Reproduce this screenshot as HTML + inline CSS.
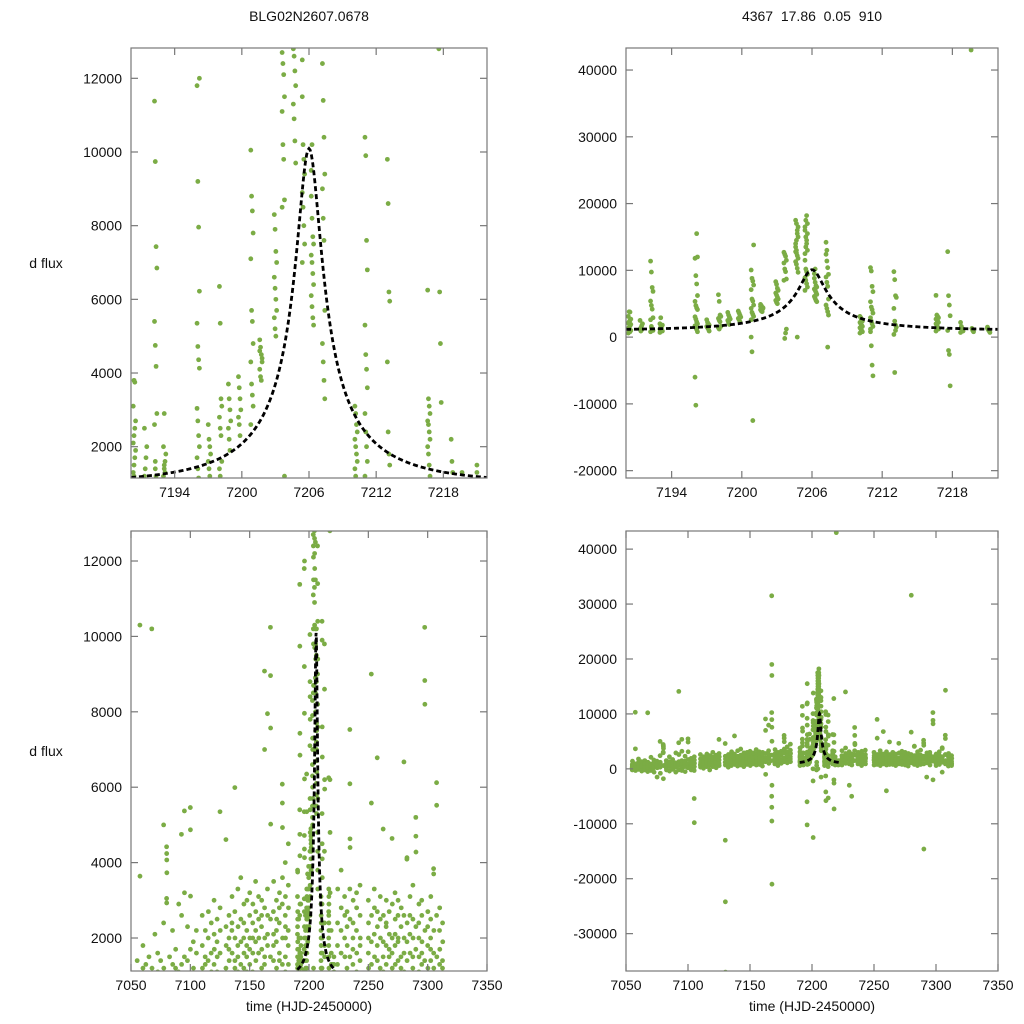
<!DOCTYPE html>
<html><head><meta charset="utf-8"><style>
html,body{margin:0;padding:0;background:#fff;overflow:hidden;width:1024px;height:1024px;}
svg{display:block;}
svg text{font-family:"Liberation Sans",sans-serif;fill:#111;}
</style></head><body>
<svg id="chart" width="1024" height="1024" viewBox="0 0 1024 1024" xmlns="http://www.w3.org/2000/svg">
<rect width="1024" height="1024" fill="#fff"/>
</svg>
<script>
// ---- data: observation nights [time, fluxes...] ----
const nightTimes = [7055,7057.5,7060,7062.5,7065,7067.5,7070,7072.5,7075,7077.5,7080,7082.5,7085,7087.5,7090,7092.5,7095,7097.5,7100,7102.5,7105,
7110,7112.5,7115,7117.5,7120,7122.5,7125,7130,7132.5,7135,7137.5,7140,7142.5,7145,7147.5,7150,7152.5,7155,7157.5,7160,7162.5,7165,7167.5,7170,7172.5,7175,7177.5,7180,7182.5,
7190.3,7191.3,7192.2,7193.0,7196.0,7197.0,7198.0,7198.8,7199.7,7200.8,7201.6,7202.9,7203.6,7204.6,7205.4,7206.2,7207.2,7210.1,7211.0,7213.0,7216.6,7217.6,7218.7,7219.6,7221.0,
7224,7227,7230,7232,7234.4,7237,7240,7243,
7250,7252.5,7255,7257.5,7260,7262.5,7265,7267.5,7270,7272.5,7275,7277.5,7280,7282.5,7285,7287.5,7290,7292.5,7295,7297.5,7300,7302.5,7305,7307.5,7310,7312.5];
const nightFlux = [
[300,-200,600,1400,100,800],[10300,3640,500,-300,900,200],[400,1200,-100,700,300,1800],[100,600,900,-400,1300,500],[800,200,1500,-200,400,1000],
[10200,600,100,1200,-500,300],[500,900,2100,0,700,-300],[1600,300,-600,800,200,1100],[1400,-1500,500,200,900,600],[5000,300,1200,-800,2400,500],
[4420,4240,4070,3730,3050,2930,-1800,600],[300,1000,-200,700,1500,100],[800,-400,1300,400,2200,600],[200,900,1700,-100,500,1200],[1100,400,-600,2900,700,300],
[4750,14100,1300,600,-200,900,2600],[5370,3200,800,200,1500,-300],[600,1000,2300,-500,400,1400],[5460,4870,3110,900,200,1700],[700,-200,1200,500,1900,300],
[-5400,-9800,400,1000,-300,2200,1600],
[800,1800,300,1200,2600,600],[1500,500,2200,900,100,1300],[1000,2000,400,2700,1400,700],[600,1600,2400,1100,-200,900],[1300,2100,700,1700,3000,400],
[900,2500,1500,200,1900,1100],[5350,1600,600,2200,1000,2800],[4610,-13000,-24200,-37000,1200,2300,700,1800],[1700,2600,900,1400,300,2000],[2200,1000,3100,1600,600,2400],
[5990,1400,2000,800,2700,1200],[1800,3300,1100,2300,500,1500],[1300,2500,1900,700,3600,1000],[2000,1200,2900,1600,400,2400],[1500,2200,800,3000,1800,1100],
[2600,1300,2000,600,1700,3200],[1100,2400,1600,2900,900,2000],[1900,700,2700,1400,3500,2200],[1600,2500,1000,2000,3100,800],[2300,1200,3000,1700,500,2600],
[9080,7000,-1000,2000,1300,2800,1500],[7950,1800,2600,1000,3300,2100],[10240,8960,7570,5020,31500,19000,17000,-3000,-5000,-7000,-9500,-21000,1500,2500],
[2700,1400,2100,3500,900,1800],[1900,3000,1200,2500,600,2200],[2400,1600,3200,1000,2800,1400],[6080,5580,4930,2000,2900,1300,3600],[2600,1500,3100,2000,4000,1100,2300],
[2200,3400,1300,2800,1800,4500],
[1300,1500,1700,1900,2100,2300,2500,2700,3100,3800,3750,1000,600,1200,800],
[1200,1400,1700,2000,2500,900,1100],
[11380,9740,7430,6850,5400,4750,4180,2900,2600,1600,1200,1000,800,1400],
[1200,1400,1600,1800,2000,2900,1300,900,700,1500],
[11800,9200,7960,6220,5350,4720,4360,4130,3040,2700,2300,2000,1700,1400,1150,800,-6000,-10200,15500,12000],
[2600,2200,2000,1800,1600,1400,1200,900],
[6350,5350,3300,3100,2800,2500,2300,1600,1400,1200],
[3700,3300,3000,2700,2500,2200,1900],
[3900,3600,3300,3000,2800,2600,2300],
[10050,8800,8400,7800,7100,5700,5400,4800,4300,3700,3400,3100,2600,-2200,-12500,13800,0],
[4900,4700,4500,4300,4100,3900,3800,4400,4600],
[8300,7900,7300,7000,6600,6300,6000,5700,5500,5200,5000],
[12700,12400,12100,11500,11100,10200,9800,8700,8500,-200,600,1200],
[12800,12600,12200,11800,11300,10900,10300,9700,13500,14500,15500,16500,17500,17000,16000,15000,14000,13000,0],
[11500,10200,9800,9400,8900,8500,8000,7500,7000,13500,14500,15500,16500,17500,18200,17000,16000,15000,14000,13000,12500],
[8800,8200,7700,7500,7200,7000,6700,6400,6100,5800,5500,5300,9500,10200],
[12400,11400,10400,9400,9000,8200,7600,5700,4800,4300,3800,3300,14200,13000,-1500],
[3100,2900,2600,2400,2200,2000,1800,1600,1400,1200,1000,800,600],
[10400,9900,7600,6800,5300,4500,4100,3600,2900,2400,2000,1600,1200,-1300,-4200,-5800,800],
[9800,8600,6200,5950,4300,2400,1800,1500,400,-5300,1000],
[6250,3300,3100,2900,2700,2600,2400,2200,2000,1800,1500,1200,900],
[12800,6200,4800,3200,1000,-2000,-2600,-7300],
[2200,1600,1300,900,700],
[43000,1300,1000,800],
[1300,1100,900,700,1500],
[1300,2400,700,3300,1800,900],[14000,1600,2800,1000,2200,3800],[2000,900,2600,1500,3100,-3000],[1200,2300,700,1800,-5000,2700],
[7530,6090,4630,4400,3300,1500,2500],[1700,900,2400,3000,1300,2000],[2200,1100,2800,1600,600,3200],[1400,2600,900,2000,3400,1800],
[1600,700,2400,1200,3000,2000],[9000,5580,1300,2600,800,1900],[2100,1000,2800,1500,3300,600],[6780,1400,2300,900,1800,2700],[1200,2500,700,2000,-4000,3100],
[4890,1900,1100,2600,1500,800],[2300,1300,3000,800,1800,2400],[1500,2700,1000,2100,600,1700],[4640,2000,1200,2900,1600,900],[1800,800,2500,1300,3200,2100],
[2600,1400,2000,700,1900,3000],[1200,2300,900,2800,1500,500],[6670,31600,2000,1100,2600,1600],[4090,4130,1400,2400,800,1900],[2100,1000,3100,1600,2600,600],
[1500,2500,800,2000,1200,3400],[5200,4700,4280,-14600,1700,2300,900],[2400,1100,2900,1500,-1500,2000],[1300,2600,700,1900,3000,1600],[10240,8830,8200,2200,1400,-2000],
[1800,900,2700,1200,2300,600],[2000,1400,3100,800,1700,2500],[3840,3700,1200,2200,-600,1600],[6120,5520,14300,1500,2600,900],[2200,1000,2800,1700,500,1300],
[1400,2400,900,1900,1200,600]
];
// microlensing model parameters: t0, u0, tE, source flux, blend flux
const modelT0 = 7206, modelU0 = 0.1, modelTE = 11.5, modelFs = 1006, modelFb = 1000;
const modelRange = [7190.1, 7221.9];
const zoomXTicks = [7194,7200,7206,7212,7218];
const fullXTicks = [7050,7100,7150,7200,7250,7300,7350];
const leftYTicks = [2000,4000,6000,8000,10000,12000];
const trYTicks = [-20000,-10000,0,10000,20000,30000,40000];
const brYTicks = [-30000,-20000,-10000,0,10000,20000,30000,40000];

const NS = 'http://www.w3.org/2000/svg';
const svg = document.getElementById('chart');
function mk(tag, attrs, parent){const e=document.createElementNS(NS,tag);for(const k in attrs)e.setAttribute(k,attrs[k]);(parent||svg).appendChild(e);return e;}

const panels = [
 {id:'top-left', x0:131,x1:487,y0:48,y1:478, xd:[7190.1,7221.9], yd:[1150,12823], xt:zoomXTicks, yt:leftYTicks, xlab:false, ylab:true},
 {id:'top-right', x0:626,x1:998,y0:48,y1:478, xd:[7190.1,7221.9], yd:[-21100,43300], xt:zoomXTicks, yt:trYTicks, xlab:false, ylab:false},
 {id:'bottom-left', x0:131,x1:487,y0:531,y1:971, xd:[7050,7350], yd:[1125,12796], xt:fullXTicks, yt:leftYTicks, xlab:true, ylab:true},
 {id:'bottom-right', x0:626,x1:998,y0:531,y1:971, xd:[7050,7350], yd:[-36800,43300], xt:fullXTicks, yt:brYTicks, xlab:true, ylab:false}
];

panels.forEach((p,pi)=>{
  const sx = t => p.x0 + (t-p.xd[0])/(p.xd[1]-p.xd[0])*(p.x1-p.x0);
  const sy = f => p.y1 - (f-p.yd[0])/(p.yd[1]-p.yd[0])*(p.y1-p.y0);
  const g = mk('g',{});
  
  
  const cp = mk('clipPath',{id:'clip'+pi}, g);
  mk('rect',{x:p.x0,y:p.y0,width:p.x1-p.x0,height:p.y1-p.y0},cp);
  const pts = mk('g',{'clip-path':'url(#clip'+pi+')'}, g);
  
  
  nightTimes.forEach((t,i)=>{
    nightFlux[i].forEach((f,j)=>{
      const tt = t + (j%4)*0.07;
      if (tt < p.xd[0]-1 || tt > p.xd[1]+1) return;
      const c = mk('circle',{cx:sx(tt).toFixed(2),cy:sy(f).toFixed(2),r:2.4,fill:'#7bac45'},pts);
      
      
    });
  });
  let d='';
  for(let k=0;k<=300;k++){
    const t = modelRange[0] + (modelRange[1]-modelRange[0])*k/300;
    const tau=(t-modelT0)/modelTE;
    const u=Math.sqrt(modelU0*modelU0+tau*tau);
    const A=(u*u+2)/(u*Math.sqrt(u*u+4));
    const f=modelFb+modelFs*(A-1);
    d+=(k?'L':'M')+sx(t).toFixed(2)+','+sy(f).toFixed(2);
  }
  const ml = mk('path',{d:d,fill:'none',stroke:'#000','stroke-width':2.8,'stroke-dasharray':'5,3','clip-path':'url(#clip'+pi+')'},g);
  
  
  const fr = mk('rect',{x:p.x0,y:p.y0,width:p.x1-p.x0,height:p.y1-p.y0,fill:'none',stroke:'#777','stroke-width':1.2},g);
  
  
  p.xt.forEach(v=>{
    const x=sx(v);
    mk('line',{x1:x,x2:x,y1:p.y1,y2:p.y1-7,stroke:'#777','stroke-width':1.2},g);
    mk('line',{x1:x,x2:x,y1:p.y0,y2:p.y0+7,stroke:'#777','stroke-width':1.2},g);
    const tx = mk('text',{x:x,y:p.y1+19,'text-anchor':'middle','font-size':14},g);
    tx.textContent=v;
    
    
  });
  p.yt.forEach(v=>{
    const y=sy(v);
    mk('line',{x1:p.x0,x2:p.x0+7,y1:y,y2:y,stroke:'#777','stroke-width':1.2},g);
    mk('line',{x1:p.x1,x2:p.x1-7,y1:y,y2:y,stroke:'#777','stroke-width':1.2},g);
    const ty = mk('text',{x:p.x0-9,y:y+5,'text-anchor':'end','font-size':14},g);
    ty.textContent=v;
    
    
  });
  if(p.xlab){
    const xl = mk('text',{x:(p.x0+p.x1)/2,y:1011,'text-anchor':'middle','font-size':14},g);
    xl.textContent='time (HJD-2450000)';
    
    
  }
  if(p.ylab){
    const yl = mk('text',{x:46,y:(p.y0+p.y1)/2+5,'text-anchor':'middle','font-size':14},g);
    yl.textContent='d flux';
    
    
  }
});
const t1 = mk('text',{x:309,y:21,'text-anchor':'middle','font-size':14});
t1.textContent='BLG02N2607.0678';


const t2 = mk('text',{x:812,y:21,'text-anchor':'middle','font-size':14});
t2.textContent='4367  17.86  0.05  910';
t2.style.whiteSpace='pre';


</script>
</body></html>
